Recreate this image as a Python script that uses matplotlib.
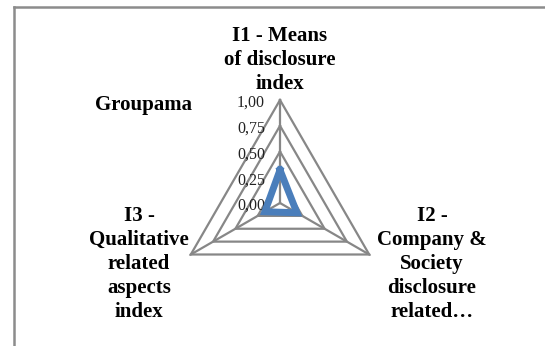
import numpy as np
import matplotlib
matplotlib.use("Agg")
import matplotlib.pyplot as plt
from matplotlib.lines import Line2D

# ---- data -------------------------------------------------------------------
categories = ["I1 - Means\nof disclosure\nindex",
              "I2 -\nCompany &\nSociety\ndisclosure\nrelated…",
              "I3 -\nQualitative\nrelated\naspects\nindex"]
series_name = "Groupama"
values = [0.32, 0.19, 0.17]
grid_levels = [0.25, 0.50, 0.75, 1.00]
tick_values = [0.00, 0.25, 0.50, 0.75, 1.00]
tick_labels = ["0,00", "0,25", "0,50", "0,75", "1,00"]

W, H = 545, 346
CX, CY, R = 280, 203, 103     # radar centre / radius in pixels

plt.rcParams["font.family"] = ["Liberation Serif", "DejaVu Serif"]

fig = plt.figure(figsize=(W / 100, H / 100), dpi=100)
ax = fig.add_axes([0, 0, 1, 1])
ax.set_xlim(-CX / R, (W - CX) / R)
ax.set_ylim(-(H - CY) / R, CY / R)
ax.axis("off")

# clockwise from top, like Excel
angles = np.deg2rad(90 - 120 * np.arange(len(categories)))
ux, uy = np.cos(angles), np.sin(angles)

grid_col = "#878787"
for lv in grid_levels:
    ax.plot(np.append(ux, ux[0]) * lv, np.append(uy, uy[0]) * lv,
            color=grid_col, lw=1.6, zorder=1, solid_joinstyle="miter")
for x, y in zip(ux, uy):
    ax.plot([0, x], [0, y], color=grid_col, lw=1.6, zorder=1)

v = np.array(values)
ax.plot(np.append(ux * v, ux[0] * v[0]), np.append(uy * v, uy[0] * v[0]),
        color="#4a7ebb", lw=5, zorder=3, solid_joinstyle="miter")

# radial tick labels along the top spoke
for tv, tl in zip(tick_values, tick_labels):
    ax.text(-15 / R, tv - 3 / R, tl, ha="right", va="center", fontsize=11.5,
            color="#222222", zorder=2)

# category labels
lab_pos = [(280, 60), (432, 264), (139, 264)]
for (px, py), lab in zip(lab_pos, categories):
    ax.text((px - CX) / R, (CY - py) / R, lab, ha="center", va="center",
            fontsize=15, fontweight="bold", linespacing=1.28)

ax.text((95 - CX) / R, (CY - 105) / R, series_name, ha="left", va="center",
        fontsize=15, fontweight="bold")

# chart frame (cut off at right / bottom)
fx, fy = 13.5 / W, 1 - 6.5 / H
fig.add_artist(Line2D([fx, fx], [fy, 0], transform=fig.transFigure,
                      color="#8c8c8c", lw=1.8))
fig.add_artist(Line2D([fx, 1], [fy, fy], transform=fig.transFigure,
                      color="#8c8c8c", lw=1.8))

fig.savefig("out.png", dpi=100)
